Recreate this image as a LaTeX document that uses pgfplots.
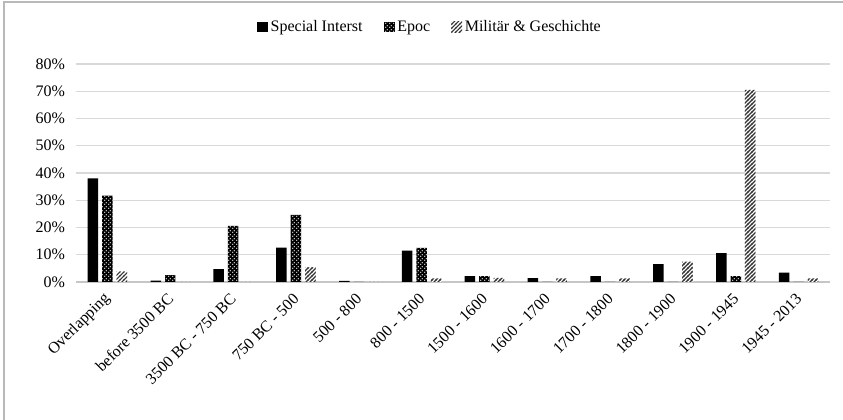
\documentclass[border=0pt]{standalone}
\usepackage{fontspec}
\setmainfont{Liberation Serif}
\usepackage{pgfplots}
\pgfplotsset{compat=1.18}
\usetikzlibrary{patterns}

\pgfdeclarepatternformonly{epocdots}{\pgfpointorigin}{\pgfqpoint{2.6pt}{2.6pt}}{\pgfqpoint{2.6pt}{2.6pt}}{%
  \pgfpathcircle{\pgfqpoint{0.65pt}{0.65pt}}{0.5pt}%
  \pgfpathcircle{\pgfqpoint{1.95pt}{1.95pt}}{0.5pt}%
  \pgfusepath{fill}}
\pgfdeclarepatternformonly{milstripes}{\pgfqpoint{-1pt}{-1pt}}{\pgfqpoint{4pt}{4pt}}{\pgfqpoint{3pt}{3pt}}{%
  \pgfsetlinewidth{0.8pt}%
  \pgfpathmoveto{\pgfqpoint{-0.5pt}{-0.5pt}}%
  \pgfpathlineto{\pgfqpoint{3.5pt}{3.5pt}}%
  \pgfusepath{stroke}}

\begin{document}
\begin{tikzpicture}[font=\fontsize{12}{14}\selectfont]
\useasboundingbox (-57pt,-103.5pt) rectangle (575.25pt,211.5pt);
\draw[gray!55, line width=1pt] (-54pt,-103.5pt) -- (-54pt,210pt) -- (575.25pt,210pt);
\begin{axis}[
  at={(0,0)}, anchor=south west,
  scale only axis, width=565.5pt, height=163.5pt,
  xmin=-0.5, xmax=11.5, ymin=0, ymax=80,
  ytick={0,10,...,80},
  yticklabel={\pgfmathprintnumber{\tick}\%},
  xtick={0,...,11},
  xticklabels={Overlapping, before 3500 BC, 3500 BC - 750 BC, 750 BC - 500, 500 - 800, 800 - 1500, 1500 - 1600, 1600 - 1700, 1700 - 1800, 1800 - 1900, 1900 - 1945, 1945 - 2013},
  xticklabel style={yshift=-10pt, xshift=1pt, rotate=45, anchor=east, inner sep=1pt},
  yticklabel style={inner sep=2pt, xshift=-6pt},
  ymajorgrids, grid style={gray!30, line width=0.8pt},
  axis line style={draw=none},
  major tick length=0pt,
  /pgf/number format/assume math mode=true,
  legend columns=3,
  legend style={at={(0.47,1.17)}, anchor=center, draw=none, fill=none,
    /tikz/every even column/.append style={column sep=14pt}},
  legend cell align=left,
  legend image code/.code={\path[#1] (0pt,-4pt) rectangle (8pt,4pt);},
  clip=false,
]
\draw[gray!45, line width=1.3pt] (rel axis cs:0,0) -- (rel axis cs:1,0);
\addplot[ybar, bar width=0.167, bar shift=-0.23, fill=black, draw=none]
  coordinates {(0,38) (1,0.5) (2,4.7) (3,12.6) (4,0.4) (5,11.5) (6,2.2) (7,1.4) (8,2.2) (9,6.6) (10,10.6) (11,3.4)};
\addplot[ybar, bar width=0.167, bar shift=0, fill=black, draw=none, postaction={pattern=epocdots, pattern color=white}]
  coordinates {(0,31.7) (1,2.5) (2,20.6) (3,24.6) (4,0) (5,12.5) (6,2.2) (7,0) (8,0) (9,0) (10,2.2) (11,0)};
\addplot[ybar, bar width=0.167, bar shift=0.23, fill=white, draw=none, postaction={pattern=milstripes, pattern color=black!80}]
  coordinates {(0,3.8) (1,0) (2,0) (3,5.4) (4,0) (5,1.3) (6,1.5) (7,1.3) (8,1.3) (9,7.5) (10,70.5) (11,1.3)};
\legend{Special Interst, Epoc, Militär \& Geschichte}
\end{axis}
\end{tikzpicture}
\end{document}
